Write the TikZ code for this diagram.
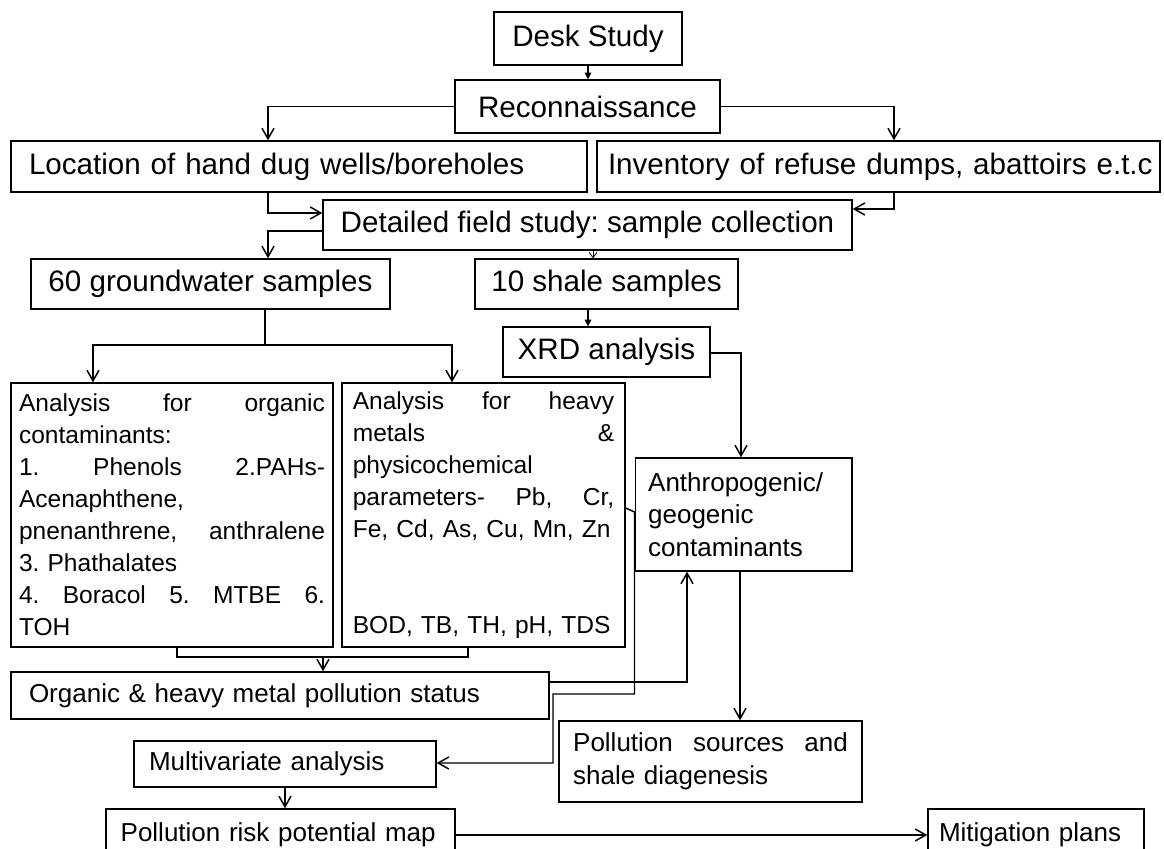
\documentclass[tikz,border=0pt]{standalone}
\usepackage{fontspec}
\setmainfont{Liberation Sans}
\usetikzlibrary{arrows.meta}
\setlength{\parindent}{0pt}
\frenchspacing

\begin{document}
\begin{tikzpicture}[x=0.75pt, y=-0.75pt,
	box/.style={draw, line width=1pt, inner sep=0pt},
	bigbox/.style={box, font=\fontsize{22.2}{26}\selectfont},
	smallbox/.style={box, font=\fontsize{19.5}{24.4}\selectfont},
	listbox/.style={box, font=\fontsize{18.4}{24}\selectfont, align=left},
	link/.style={line width=1.1pt},
	arr/.style={link, -{Straight Barb[length=8pt,width=9pt]}},
	tipsmall/.style={line width=0.9pt, -{Triangle[length=5pt,width=5pt]}},
	vtip/.style={line width=0.6pt, -{Straight Barb[length=4pt,width=6pt]}}]
	\useasboundingbox (0,0) rectangle (1164,849);
	\clip (0,0) rectangle (1164,849);

	% top rows
	\node[bigbox, minimum width=141pt, minimum height=39.75pt] (desk) at (588,38.5) {Desk Study};
	\node[bigbox, minimum width=198.75pt, minimum height=39.75pt] (recon) at (587.5,106.5) {Reconnaissance};
	\node[bigbox, minimum height=38.25pt, text width=405pt, inner xsep=13.5pt, align=left] (loc) at (299,166.5) {\mbox{Location of hand dug wells/boreholes}};
	\node[bigbox, minimum height=38.25pt, text width=405.75pt, inner xsep=8.25pt, align=left] (inv) at (878.5,166.5) {\mbox{Inventory of refuse dumps, abattoirs e.t.c}};
	\node[bigbox, minimum width=396.75pt, minimum height=37.5pt] (detail) at (587.5,225) {Detailed field study: sample collection};
	\node[bigbox, minimum width=269.25pt, minimum height=37.5pt] (gw) at (210.5,284) {60 groundwater samples};
	\node[bigbox, minimum width=197.25pt, minimum height=37.5pt] (shale) at (606.5,284) {10 shale samples};
	\node[bigbox, minimum width=155.25pt, minimum height=37.5pt] (xrd) at (606.5,352) {XRD analysis};

	% analysis boxes
	\node[listbox, text width=229.5pt, inner xsep=6pt, minimum height=198pt] (orga) at (172,515)
		{Analysis\hfill for\hfill organic\\ contaminants:\\ 1.\hfill Phenols\hfill 2.PAHs-\\ Acenaphthene,\\ pnenanthrene,\hfill anthralene\\ 3. Phathalates\\ 4.\hfill Boracol\hfill 5.\hfill MTBE\hfill 6.\\ TOH};
	\node[listbox, text width=196pt, inner xsep=8.1pt, minimum height=198pt] (heavy) at (483.5,515)
		{Analysis\hfill for\hfill heavy\\ metals\hfill \&\\ physicochemical\\ parameters-\hfill Pb,\hfill Cr,\\ \mbox{Fe, Cd, As, Cu, Mn, Zn}\\ \mbox{}\\ \mbox{}\\ \mbox{BOD, TB, TH, pH, TDS}};
	\node[smallbox, text width=143pt, inner xsep=9.75pt, minimum height=84.75pt, align=left] (anthro) at (743.5,514.5)
		{Anthropogenic/\\ geogenic\\ contaminants};

	% lower boxes
	\node[smallbox, text width=376.5pt, inner xsep=13.5pt, minimum height=35.25pt, align=left] (status) at (280,695.5) {\mbox{Organic \& heavy metal pollution status}};
	\node[smallbox, text width=204pt, inner xsep=11.25pt, minimum height=34.5pt, align=left] (multi) at (285,764) {\mbox{Multivariate analysis}};
	\node[smallbox, text width=206pt, inner xsep=10.6pt, minimum height=60.75pt, align=left] (sources) at (710.5,761.5)
		{Pollution\hfill sources\hfill and\\ shale diagenesis};
	\node[smallbox, text width=239.75pt, inner xsep=11pt, minimum height=39pt, align=left] (risk) at (280.5,835) {\mbox{Pollution risk potential map}};
	\node[smallbox, text width=145.5pt, inner xsep=8.25pt, minimum height=39pt, align=left] (mitig) at (1036,835) {\mbox{Mitigation plans}};

	% connectors
	\draw[tipsmall] (desk.south) -- (desk.south |- recon.north);
	\draw[arr] (recon.west) -| (loc.north -| 268,0);
	\draw[arr] (recon.east) -| (inv.north -| 894,0);
	\draw[arr] (loc.south -| 268,0) |- (detail.west |- 0,213);
	\draw[arr] (detail.west |- 0,231) -| (gw.north -| 268,0);
	\draw[arr] (inv.south -| 894,0) |- (detail.east |- 0,209);
	\draw[vtip] (detail.south -| 593,0) -- (shale.north -| 593,0);
	\draw[tipsmall] (shale.south -| 588,0) -- (xrd.north -| 588,0);

	\coordinate (fork) at (265,345);
	\draw[link] (gw.south -| fork) -- (fork);
	\draw[arr] (fork) -| (orga.north -| 93,0);
	\draw[arr] (fork) -| (heavy.north -| 452,0);
	\draw[arr] (xrd.east |- 0,353) -| (anthro.north -| 741,0);

	\coordinate (merge) at (323,657);
	\draw[link] (orga.south -| 177,0) |- (merge) -| (heavy.south -| 468,0);
	\draw[arr] (merge) -- (status.north -| merge);
	\draw[arr] (status.east |- 0,682) -| (anthro.south -| 687,0);
	\draw[arr] (heavy.east |- 0,508) -- (anthro.west |- 0,512) |- (553,694) |- (multi.east |- 0,763);
	\draw[arr] (anthro.south -| 740,0) -- (sources.north -| 740,0);
	\draw[arr] (multi.south -| 285,0) -- (risk.north -| 285,0);
	\draw[arr] (risk.east) -- (mitig.west);
\end{tikzpicture}
\end{document}
